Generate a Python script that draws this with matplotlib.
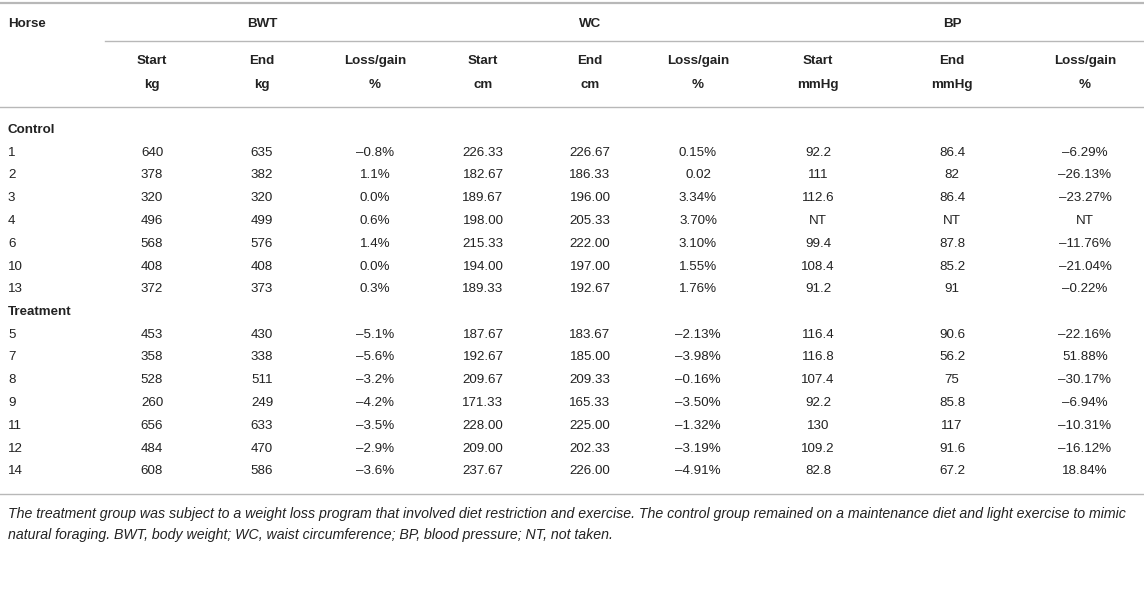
import matplotlib
matplotlib.use("Agg")
import matplotlib.pyplot as plt

plt.rcParams['font.family'] = ['Liberation Sans', 'DejaVu Sans']

group_headers = ["BWT", "WC", "BP"]
sub_top = ["Start", "End", "Loss/gain", "Start", "End", "Loss/gain", "Start", "End", "Loss/gain"]
sub_bot = ["kg", "kg", "%", "cm", "cm", "%", "mmHg", "mmHg", "%"]

control_ids = ["1", "2", "3", "4", "6", "10", "13"]
control_rows = [
    ["640", "635", "–0.8%", "226.33", "226.67", "0.15%", "92.2", "86.4", "–6.29%"],
    ["378", "382", "1.1%", "182.67", "186.33", "0.02", "111", "82", "–26.13%"],
    ["320", "320", "0.0%", "189.67", "196.00", "3.34%", "112.6", "86.4", "–23.27%"],
    ["496", "499", "0.6%", "198.00", "205.33", "3.70%", "NT", "NT", "NT"],
    ["568", "576", "1.4%", "215.33", "222.00", "3.10%", "99.4", "87.8", "–11.76%"],
    ["408", "408", "0.0%", "194.00", "197.00", "1.55%", "108.4", "85.2", "–21.04%"],
    ["372", "373", "0.3%", "189.33", "192.67", "1.76%", "91.2", "91", "–0.22%"],
]
treat_ids = ["5", "7", "8", "9", "11", "12", "14"]
treat_rows = [
    ["453", "430", "–5.1%", "187.67", "183.67", "–2.13%", "116.4", "90.6", "–22.16%"],
    ["358", "338", "–5.6%", "192.67", "185.00", "–3.98%", "116.8", "56.2", "51.88%"],
    ["528", "511", "–3.2%", "209.67", "209.33", "–0.16%", "107.4", "75", "–30.17%"],
    ["260", "249", "–4.2%", "171.33", "165.33", "–3.50%", "92.2", "85.8", "–6.94%"],
    ["656", "633", "–3.5%", "228.00", "225.00", "–1.32%", "130", "117", "–10.31%"],
    ["484", "470", "–2.9%", "209.00", "202.33", "–3.19%", "109.2", "91.6", "–16.12%"],
    ["608", "586", "–3.6%", "237.67", "226.00", "–4.91%", "82.8", "67.2", "18.84%"],
]
caption = ["The treatment group was subject to a weight loss program that involved diet restriction and exercise. The control group remained on a maintenance diet and light exercise to mimic",
           "natural foraging. BWT, body weight; WC, waist circumference; BP, blood pressure; NT, not taken."]

W, H = 1144, 594
fig = plt.figure(figsize=(W/100, H/100), dpi=100)
ax = fig.add_axes([0, 0, 1, 1])
ax.set_xlim(0, W)
ax.set_ylim(H, 0)
ax.axis('off')

col_x = [152, 262, 375, 483, 590, 698, 818, 952, 1085]
grp_x = [262, 590, 952]
fs = 9.6
col = '#222222'
line_c = '#b8b8b8'

ax.plot([0, W], [3, 3], color=line_c, lw=1.6)
ax.plot([105, W], [41, 41], color=line_c, lw=1.0)
ax.plot([0, W], [107, 107], color=line_c, lw=1.0)
ax.plot([0, W], [494, 494], color=line_c, lw=1.0)

ax.text(8, 24, "Horse", ha='left', va='center', fontsize=fs, fontweight='bold', color=col)
for g, x in zip(group_headers, grp_x):
    ax.text(x, 24, g, ha='center', va='center', fontsize=fs, fontweight='bold', color=col)
for t, b, x in zip(sub_top, sub_bot, col_x):
    ax.text(x, 61, t, ha='center', va='center', fontsize=fs, fontweight='bold', color=col)
    ax.text(x, 85, b, ha='center', va='center', fontsize=fs, fontweight='bold', color=col)

y0 = 130
dy = 22.75
ax.text(8, y0, "Control", ha='left', va='center', fontsize=fs, fontweight='bold', color=col)
y = y0
for hid, row in zip(control_ids, control_rows):
    y += dy
    ax.text(8, y, hid, ha='left', va='center', fontsize=fs, color=col)
    for v, x in zip(row, col_x):
        ax.text(x, y, v, ha='center', va='center', fontsize=fs, color=col)
y += dy
ax.text(8, y, "Treatment", ha='left', va='center', fontsize=fs, fontweight='bold', color=col)
for hid, row in zip(treat_ids, treat_rows):
    y += dy
    ax.text(8, y, hid, ha='left', va='center', fontsize=fs, color=col)
    for v, x in zip(row, col_x):
        ax.text(x, y, v, ha='center', va='center', fontsize=fs, color=col)

ax.text(8, 514, caption[0], ha='left', va='center', fontsize=10.2, style='italic', color=col)
ax.text(8, 535, caption[1], ha='left', va='center', fontsize=10.2, style='italic', color=col)

fig.savefig("out.png", dpi=100)
